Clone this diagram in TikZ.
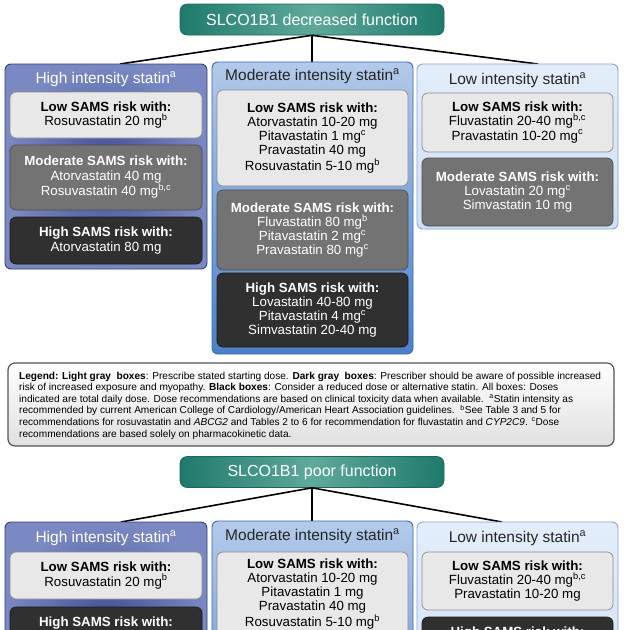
\documentclass[tikz,border=0pt]{standalone}
\usepackage{fontspec}
\setmainfont{Liberation Sans}
\newcommand\sps[1]{\textsuperscript{#1}}
\definecolor{hdA}{HTML}{1F7A6C}
\definecolor{hdB}{HTML}{5FA99B}
\definecolor{hiA}{HTML}{7A89C2}
\definecolor{hiB}{HTML}{3F4E95}
\definecolor{hiBd}{HTML}{33407E}
\definecolor{moA}{HTML}{B3CAEA}
\definecolor{moB}{HTML}{4A7FC9}
\definecolor{moBd}{HTML}{3A68AE}
\definecolor{loA}{HTML}{E3EDFA}
\definecolor{loB}{HTML}{D0E0F4}
\definecolor{loBd}{HTML}{86A6D0}
\definecolor{lgray}{HTML}{E8E8E8}
\definecolor{lgrayB}{HTML}{8C8C8C}
\definecolor{mgray}{HTML}{737373}
\definecolor{mgrayB}{HTML}{4E4E4E}
\definecolor{dgray}{HTML}{303030}
\definecolor{dgrayB}{HTML}{1C1C1C}
\definecolor{legB}{HTML}{555555}
\tikzset{
  header/.style={rounded corners=7pt, minimum width=264pt, minimum height=31pt,
    left color=hdA, right color=hdA, middle color=hdB, draw=hdA!85!black,
    line width=0.6pt, text=white, font=\fontsize{16}{18}\selectfont, inner sep=0pt},
  panel/.style={rounded corners=6pt, line width=0.9pt, inner sep=0pt},
  hipanel/.style={panel, draw=hiBd, inner color=hiB, outer color=hiA},
  mopanel/.style={panel, draw=moBd, top color=moA, bottom color=moB},
  lopanel/.style={panel, draw=loBd, top color=loA, bottom color=loB},
  ptitle/.style={font=\fontsize{15.5}{17}\selectfont, inner sep=0pt},
  box/.style={rounded corners=6pt, line width=0.7pt, minimum width=192pt,
    align=center, font=\fontsize{13.3}{14.2}\selectfont, inner sep=0pt},
  lightbox/.style={box, fill=lgray, draw=lgrayB, text=black},
  midbox/.style={box, fill=mgray, draw=mgrayB, text=white},
  darkbox/.style={box, fill=dgray, draw=dgrayB, text=white},
  btext/.style={align=center, font=\fontsize{13.3}{14.2}\selectfont, inner sep=0pt},
  conn/.style={line width=1.6pt, black},
  legbox/.style={rounded corners=7pt, line width=1.2pt, draw=legB,
    top color=white, bottom color=black!12, minimum width=606pt, minimum height=83pt, inner sep=0pt},
}
\begin{document}
\begin{tikzpicture}[x=1pt, y=-1pt]
\useasboundingbox (0,0) rectangle (624,630);
\clip (0,0) rectangle (624,630);
\fill[white] (0,0) rectangle (624,630);

% ---------- top section ----------
\node[header] (h1) at (312,19.5) {SLCO1B1 decreased function};
\coordinate (j1l) at (120,64);
\coordinate (j1m) at (312,62);
\coordinate (j1r) at (538,64);
\draw[conn] (h1.south) -- (j1l);
\draw[conn] (h1.south) -- (j1m);
\draw[conn] (h1.south) -- (j1r);

\node[hipanel, minimum width=202pt, minimum height=205pt] (p1) at (106,166.5) {};
\node[mopanel, minimum width=201pt, minimum height=292pt] (p2) at (312.5,208) {};
\node[lopanel, minimum width=201pt, minimum height=165pt] (p3) at (517.5,146.5) {};

\node[ptitle, text=white] (t1) at (106,79) {High intensity statin\sps{a}};
\node[ptitle, text=black!85] (t2) at (312.5,76) {Moderate intensity statin\sps{a}};
\node[ptitle, text=black!85] (t3) at (517.5,80) {Low intensity statin\sps{a}};

\node[lightbox, minimum height=46pt] (b11) at (106,115)
  {{\bfseries Low SAMS risk with:}\\Rosuvastatin 20 mg\sps{b}};
\node[midbox, minimum height=65pt] (b12) at (106,177.5)
  {{\bfseries Moderate SAMS risk with:}\\Atorvastatin 40 mg\\Rosuvastatin 40 mg\sps{b,c}};
\node[darkbox, minimum height=47pt] (b13) at (106,240.5)
  {{\bfseries High SAMS risk with:}\\Atorvastatin 80 mg};

\node[lightbox, minimum width=191pt, minimum height=96pt] (b21) at (312.5,138)
  {{\bfseries Low SAMS risk with:}\\Atorvastatin 10-20 mg\\Pitavastatin 1 mg\sps{c}\\Pravastatin 40 mg\\Rosuvastatin 5-10 mg\sps{b}};
\node[midbox, minimum width=191pt, minimum height=80pt] (b22) at (312.5,230)
  {{\bfseries Moderate SAMS risk with:}\\Fluvastatin 80 mg\sps{b}\\Pitavastatin 2 mg\sps{c}\\Pravastatin 80 mg\sps{c}};
\node[darkbox, minimum width=191pt, minimum height=74pt] (b23) at (312.5,310)
  {{\bfseries High SAMS risk with:}\\Lovastatin 40-80 mg\\Pitavastatin 4 mg\sps{c}\\Simvastatin 20-40 mg};

\node[lightbox, minimum width=191pt, minimum height=59pt] (b31) at (517.5,122.5)
  {{\bfseries Low SAMS risk with:}\\Fluvastatin 20-40 mg\sps{b,c}\\Pravastatin 10-20 mg\sps{c}};
\node[midbox, minimum width=191pt, minimum height=68pt] (b32) at (517.5,192)
  {{\bfseries Moderate SAMS risk with:}\\Lovastatin 20 mg\sps{c}\\Simvastatin 10 mg};

% ---------- legend ----------
\node[legbox] (leg) at (311,404.5) {};
\node[anchor=north west, align=left, inner sep=0pt, font=\fontsize{10.1}{11.6}\selectfont] (legtext) at (19,371.5)
  {{\bfseries Legend: Light gray\ \ boxes}: Prescribe stated starting dose. {\bfseries Dark gray\ \ boxes}: Prescriber should be aware of possible increased\\
   risk of increased exposure and myopathy. {\bfseries Black boxes}: Consider a reduced dose or alternative statin. All boxes: Doses\\
   indicated are total daily dose. Dose recommendations are based on clinical toxicity data when available.\ \ \sps{a}Statin intensity as\\
   recommended by current American College of Cardiology/American Heart Association guidelines.\ \ \sps{b}See Table 3 and 5 for\\
   recommendations for rosuvastatin and \textit{ABCG2} and Tables 2 to 6 for recommendation for fluvastatin and \textit{CYP2C9}. \sps{c}Dose\\
   recommendations are based solely on pharmacokinetic data.};

% ---------- bottom section ----------
\node[header] (h2) at (312,472) {SLCO1B1 poor function};
\coordinate (j2l) at (121,522);
\coordinate (j2m) at (312,521);
\coordinate (j2r) at (502,522);
\draw[conn] (h2.south) -- (j2l);
\draw[conn] (h2.south) -- (j2m);
\draw[conn] (h2.south) -- (j2r);

\node[hipanel, minimum width=202pt, minimum height=205pt] (q1) at (106,624.5) {};
\node[mopanel, minimum width=201pt, minimum height=292pt] (q2) at (312.5,667) {};
\node[lopanel, minimum width=201pt, minimum height=205pt] (q3) at (517.5,624.5) {};

\node[ptitle, text=white] (s1) at (106,538) {High intensity statin\sps{a}};
\node[ptitle, text=black!85] (s2) at (312.5,536) {Moderate intensity statin\sps{a}};
\node[ptitle, text=black!85] (s3) at (517.5,538) {Low intensity statin\sps{a}};

\node[lightbox, minimum height=47pt] (c11) at (106,575.5)
  {{\bfseries Low SAMS risk with:}\\Rosuvastatin 20 mg\sps{b}};
\node[darkbox, minimum height=80pt] (c12) at (106,647) {};
\node[btext, text=white] (c12t) at (106,623) {\bfseries High SAMS risk with:};

\node[lightbox, minimum width=191pt, minimum height=110pt] (c21) at (312.5,607) {};
\node[btext, text=black] (c21t) at (312.5,594)
  {{\bfseries Low SAMS risk with:}\\Atorvastatin 10-20 mg\\Pitavastatin 1 mg\\Pravastatin 40 mg\\Rosuvastatin 5-10 mg\sps{b}};

\node[lightbox, minimum width=191pt, minimum height=58pt] (c31) at (517.5,581)
  {{\bfseries Low SAMS risk with:}\\Fluvastatin 20-40 mg\sps{b,c}\\Pravastatin 10-20 mg};
\node[darkbox, minimum width=191pt, minimum height=80pt] (c32) at (517.5,657) {};
\node[btext, text=white] (c32t) at (517.5,633) {\bfseries High SAMS risk with:};
\end{tikzpicture}
\end{document}
